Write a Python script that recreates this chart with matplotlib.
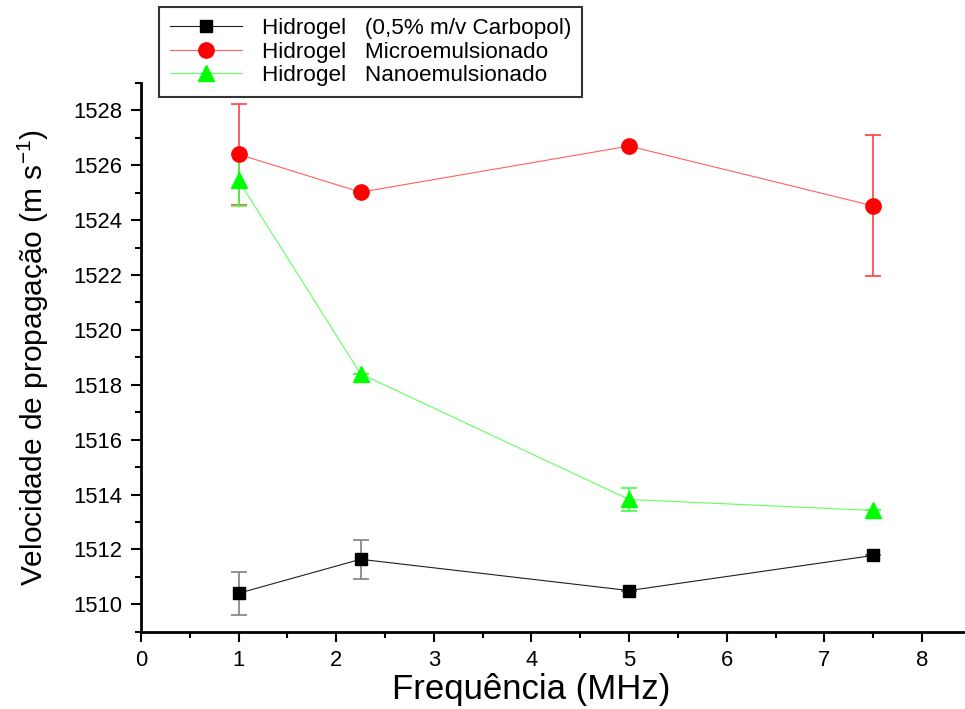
import matplotlib
matplotlib.use("Agg")
import matplotlib.pyplot as plt

plt.rcParams["font.family"] = ["Liberation Sans", "DejaVu Sans"]

# dados
freq = [1, 2.25, 5, 7.5]

carbopol = [1510.4, 1511.64, 1510.5, 1511.78]
carbopol_err = [0.78, 0.72, 0.0, 0.0]

micro = [1526.4, 1525.02, 1526.7, 1524.52]
micro_err = [1.85, 0.0, 0.0, 2.57]

nano = [1525.45, 1518.4, 1513.82, 1513.42]
nano_err = [0.95, 0.0, 0.42, 0.0]

labels = ["Hidrogel   (0,5% m/v Carbopol)",
          "Hidrogel   Microemulsionado",
          "Hidrogel   Nanoemulsionado"]

fig = plt.figure(figsize=(9.65, 7.09), dpi=100)
ax = fig.add_axes([0.146, 0.109, 0.858, 0.774])

# ======================
# SERIES
# ======================
c1 = ax.errorbar(freq, carbopol, yerr=carbopol_err, color="#202020", lw=0.8,
                 marker="s", ms=9, mfc="black", mec="black",
                 ecolor="#808080", elinewidth=1.2, capsize=6, capthick=1.2,
                 zorder=3)
c2 = ax.errorbar(freq, micro, yerr=micro_err, color="#ff6060", lw=0.8,
                 marker="o", ms=11, mfc="red", mec="red",
                 ecolor="#ff4040", elinewidth=1.2, capsize=6, capthick=1.2,
                 zorder=3)
c3 = ax.errorbar(freq, nano, yerr=nano_err, color="#60ff60", lw=0.8,
                 marker="^", ms=12, mfc="#00ff00", mec="#00ff00",
                 ecolor="#40ff40", elinewidth=1.2, capsize=6, capthick=1.2,
                 zorder=3)

# ======================
# EIXOS
# ======================
ax.set_xlim(0, 8.48)
ax.set_ylim(1509, 1529)
ax.set_xticks(range(0, 9))
ax.set_xticks([x + 0.5 for x in range(0, 8)], minor=True)
ax.set_yticks(range(1510, 1529, 2))
ax.set_yticks(range(1509, 1530, 2), minor=True)

ax.spines["top"].set_visible(False)
ax.spines["right"].set_visible(False)
ax.spines["left"].set_linewidth(2)
ax.spines["bottom"].set_linewidth(2)
ax.tick_params(axis="both", which="major", direction="out", length=7,
               width=1.5, labelsize=15.8, pad=6)
ax.tick_params(axis="both", which="minor", direction="out", length=4,
               width=1.5)

ax.set_xlabel("Frequência (MHz)", fontsize=25)
ax.xaxis.set_label_coords(4 / 8.48, -0.075)
ax.set_ylabel("Velocidade de propagação (m s$^{\\mathregular{-1}}$)",
              fontsize=21.5, labelpad=16)

# ======================
# LEGENDA (sem barras de erro)
# ======================
handles = [c1[0], c2[0], c3[0]]
leg = fig.legend(handles, labels, loc="upper left",
                 bbox_to_anchor=(0.165, 0.99), borderaxespad=0,
                 fontsize=16.2, frameon=True, fancybox=False,
                 edgecolor="black", handlelength=3.2, labelspacing=0.1,
                 borderpad=0.5, handletextpad=0.85)
leg.get_frame().set_linewidth(1.5)

fig.savefig("out.png", dpi=100)
